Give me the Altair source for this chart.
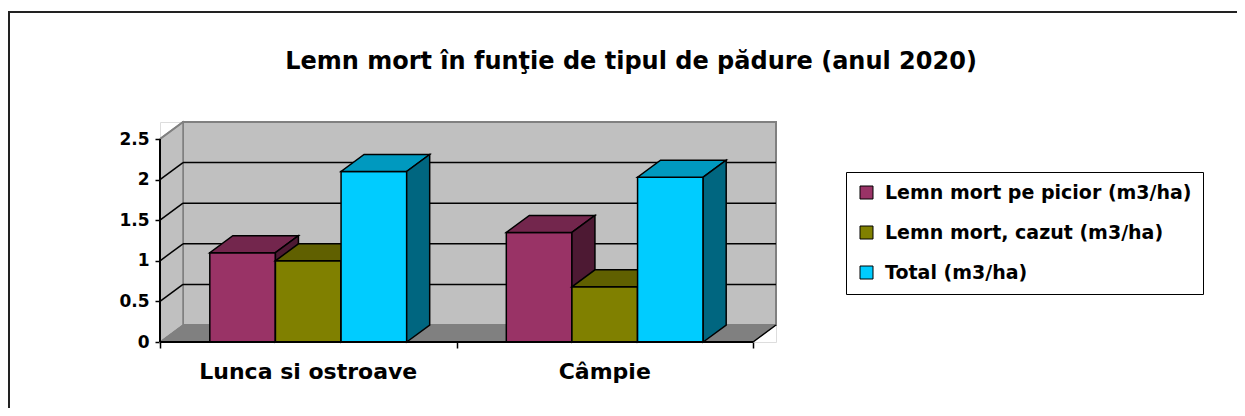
import altair as alt
import pandas as pd

# ---------------- data ----------------
categories = ["Lunca si ostroave", "Câmpie"]
series = ["Lemn mort pe picior (m3/ha)", "Lemn mort, cazut (m3/ha)", "Total (m3/ha)"]
values_picior = [1.10, 1.35]
values_cazut = [1.00, 0.68]
values_total = [2.10, 2.03]
y_ticks = [0, 0.5, 1, 1.5, 2, 2.5]
grid_values = [0.5, 1, 1.5, 2]
title_text = "Lemn mort în funţie de tipul de pădure (anul 2020)"

# ---------------- style ----------------
front_colors = ["#993366", "#808000", "#00CCFF"]
top_colors = ["#73264D", "#606000", "#0099BF"]
side_colors = ["#4D1933", "#404000", "#006680"]
WALL = "#C0C0C0"
FLOOR = "#808080"
EDGE = "#808080"
FONT = "DejaVu Sans"

W, H = 616, 220
BAND_PX = 296.5
DEPTH_X_PX, DEPTH_Y_PX = 23, 17
Y_TOP = 2.5
DX = DEPTH_X_PX / BAND_PX
DY = DEPTH_Y_PX * Y_TOP / (H - DEPTH_Y_PX)
NCAT = len(categories)
X_MAX = NCAT + DX
Y_MAX = Y_TOP + DY
GROUP_GAP = 0.168
BAR_W = (1 - 2 * GROUP_GAP) / len(series)

XS = alt.Scale(domain=[0, X_MAX], nice=False, zero=False)
YS = alt.Scale(domain=[0, Y_MAX], nice=False, zero=False)
XAX = alt.Axis(values=list(range(NCAT + 1)), labels=False, domain=False, grid=False,
               ticks=True, tickColor="black", tickWidth=1.5, tickSize=6, title=None)
YAX = alt.Axis(values=y_ticks, domain=False, grid=False, ticks=True, tickColor="black",
               tickWidth=1.5, tickSize=5, labelFont=FONT, labelFontWeight="bold",
               labelFontSize=17, labelColor="black", labelPadding=6,
               labelExpr="toString(datum.value)", title=None)


def X(f):
    return alt.X(f, type="quantitative", scale=XS, axis=XAX)


def Y(f):
    return alt.Y(f, type="quantitative", scale=YS, axis=YAX, stack=None)


# ---------------- tables built from the arrays ----------------
all_values = [values_picior, values_cazut, values_total]
front_rows, face_rows = [], []
for i, cat in enumerate(categories):
    for j, s in enumerate(series):
        v = all_values[j][i]
        x0 = i + GROUP_GAP + j * BAR_W
        x1 = x0 + BAR_W
        front_rows.append({"series": s, "j": j, "x0": x0, "x1": x1, "v": v, "base": 0.0})
        pid = f"top_{i}_{j}"
        for (px, py, py2) in [(x0, v, v), (x0 + DX, v, v + DY), (x1, v, v + DY), (x1 + DX, v + DY, v + DY)]:
            face_rows.append({"pid": pid, "j": j, "x": px, "y": py, "y2": py2, "col": top_colors[j]})
        pid = f"side_{i}_{j}"
        for (px, py, py2) in [(x1, 0.0, v), (x1 + DX, DY, v + DY)]:
            face_rows.append({"pid": pid, "j": j, "x": px, "y": py, "y2": py2, "col": side_colors[j]})
front_df = pd.DataFrame(front_rows)
face_df = pd.DataFrame(face_rows)

left_wall = pd.DataFrame({"x": [0, DX], "y": [0, DY], "y2": [Y_TOP, Y_TOP + DY]})
floor_df = pd.DataFrame({"x": [0, DX, NCAT, NCAT + DX], "y": [0, 0, 0, DY], "y2": [0, DY, DY, DY]})
back_wall = pd.DataFrame({"x": [DX], "x2": [NCAT + DX], "y": [DY], "y2": [Y_TOP + DY]})
grid_df = pd.DataFrame({"g": grid_values})
grid_df["gb"] = grid_df["g"] + DY
grid_df["xa"] = DX
grid_df["xb"] = NCAT + DX
grid_df["x0"] = 0.0
top_edge = pd.DataFrame({"x": [0.0], "x2": [DX], "y": [Y_TOP], "y2": [Y_TOP + DY]})
yaxis_line = pd.DataFrame({"x": [0.0], "y": [0.0], "y2": [Y_TOP]})
xaxis_line = pd.DataFrame({"x": [0.0], "x2": [float(NCAT)], "y": [0.0]})
floor_right = pd.DataFrame({"x": [float(NCAT)], "x2": [NCAT + DX], "y": [0.0], "y2": [DY]})
cat_df = pd.DataFrame({"cat": categories, "cx": [i + 0.5 for i in range(NCAT)], "base": [0.0] * NCAT})

# ---------------- layers ----------------
layers = []
layers.append(alt.Chart(back_wall).mark_rect(fill=WALL, stroke=EDGE, strokeWidth=2).encode(
    x=X("x"), x2="x2", y=Y("y"), y2="y2"))
layers.append(alt.Chart(left_wall).mark_area(fill=WALL, stroke=EDGE, strokeWidth=1.5).encode(
    x=X("x"), y=Y("y"), y2="y2"))
layers.append(alt.Chart(floor_df).mark_area(fill=FLOOR, stroke=EDGE, strokeWidth=1).encode(
    x=X("x"), y=Y("y"), y2="y2"))
layers.append(alt.Chart(grid_df).mark_rule(color="black", strokeWidth=1.5).encode(
    x=X("xa"), x2="xb", y=Y("gb")))
layers.append(alt.Chart(grid_df).mark_rule(color="black", strokeWidth=1.5).encode(
    x=X("x0"), x2="xa", y=Y("g"), y2="gb"))
layers.append(alt.Chart(top_edge).mark_rule(color=EDGE, strokeWidth=2).encode(
    x=X("x"), x2="x2", y=Y("y"), y2="y2"))

fill_enc = alt.Fill("series:N", scale=alt.Scale(domain=series, range=front_colors),
                    legend=alt.Legend(orient="none", legendX=686, legendY=50, title=None,
                                      strokeColor="black", fillColor="white", padding=11,
                                      rowPadding=20, symbolType="square", symbolSize=169,
                                      symbolStrokeColor="black", symbolStrokeWidth=1,
                                      labelFont=FONT, labelFontSize=19, labelFontWeight="bold",
                                      labelColor="black", labelOffset=9, labelLimit=400))
for j in range(len(series)):
    layers.append(alt.Chart(front_df).transform_filter(alt.datum.j == j).mark_rect(
        stroke="black", strokeWidth=1.5).encode(
        x=X("x0"), x2="x1", y=Y("v"), y2="base", fill=fill_enc))
    layers.append(alt.Chart(face_df).transform_filter(alt.datum.j == j).mark_area(
        stroke="black", strokeWidth=1.5, opacity=1).encode(
        x=X("x"), y=Y("y"), y2="y2", detail="pid:N", color=alt.Color("col:N", scale=None)))

layers.append(alt.Chart(yaxis_line).mark_rule(color="black", strokeWidth=2).encode(
    x=X("x"), y=Y("y"), y2="y2"))
layers.append(alt.Chart(xaxis_line).mark_rule(color="black", strokeWidth=2).encode(
    x=X("x"), x2="x2", y=Y("y")))
layers.append(alt.Chart(floor_right).mark_rule(color="black", strokeWidth=1.5).encode(
    x=X("x"), x2="x2", y=Y("y"), y2="y2"))
layers.append(alt.Chart(cat_df).mark_text(font=FONT, fontWeight="bold", fontSize=22,
                                          color="black", dy=30, baseline="middle",
                                          align="center").encode(
    x=X("cx"), y=Y("base"), text="cat:N"))

frame = pd.DataFrame({"k": [0]})
layers.append(alt.Chart(frame).mark_rect(fillOpacity=0, stroke="#222222", strokeWidth=2).encode(
    x=alt.value(-151), x2=alt.value(1300), y=alt.value(-110), y2=alt.value(400)))
title_df = pd.DataFrame({"t": [title_text]})
layers.append(alt.Chart(title_df).mark_text(font=FONT, fontWeight="bold", fontSize=24,
                                            color="black", align="center",
                                            baseline="middle").encode(
    x=alt.value(471), y=alt.value(-60), text="t:N"))

chart = alt.layer(*layers).properties(
    width=W, height=H,
    autosize=alt.AutoSizeParams(type="none"),
    padding={"left": 152, "top": 114, "right": 461, "bottom": 66},
).configure_view(stroke=None).configure(background="white")

chart.save("out.html", embed_options={"renderer": "svg", "actions": False})
